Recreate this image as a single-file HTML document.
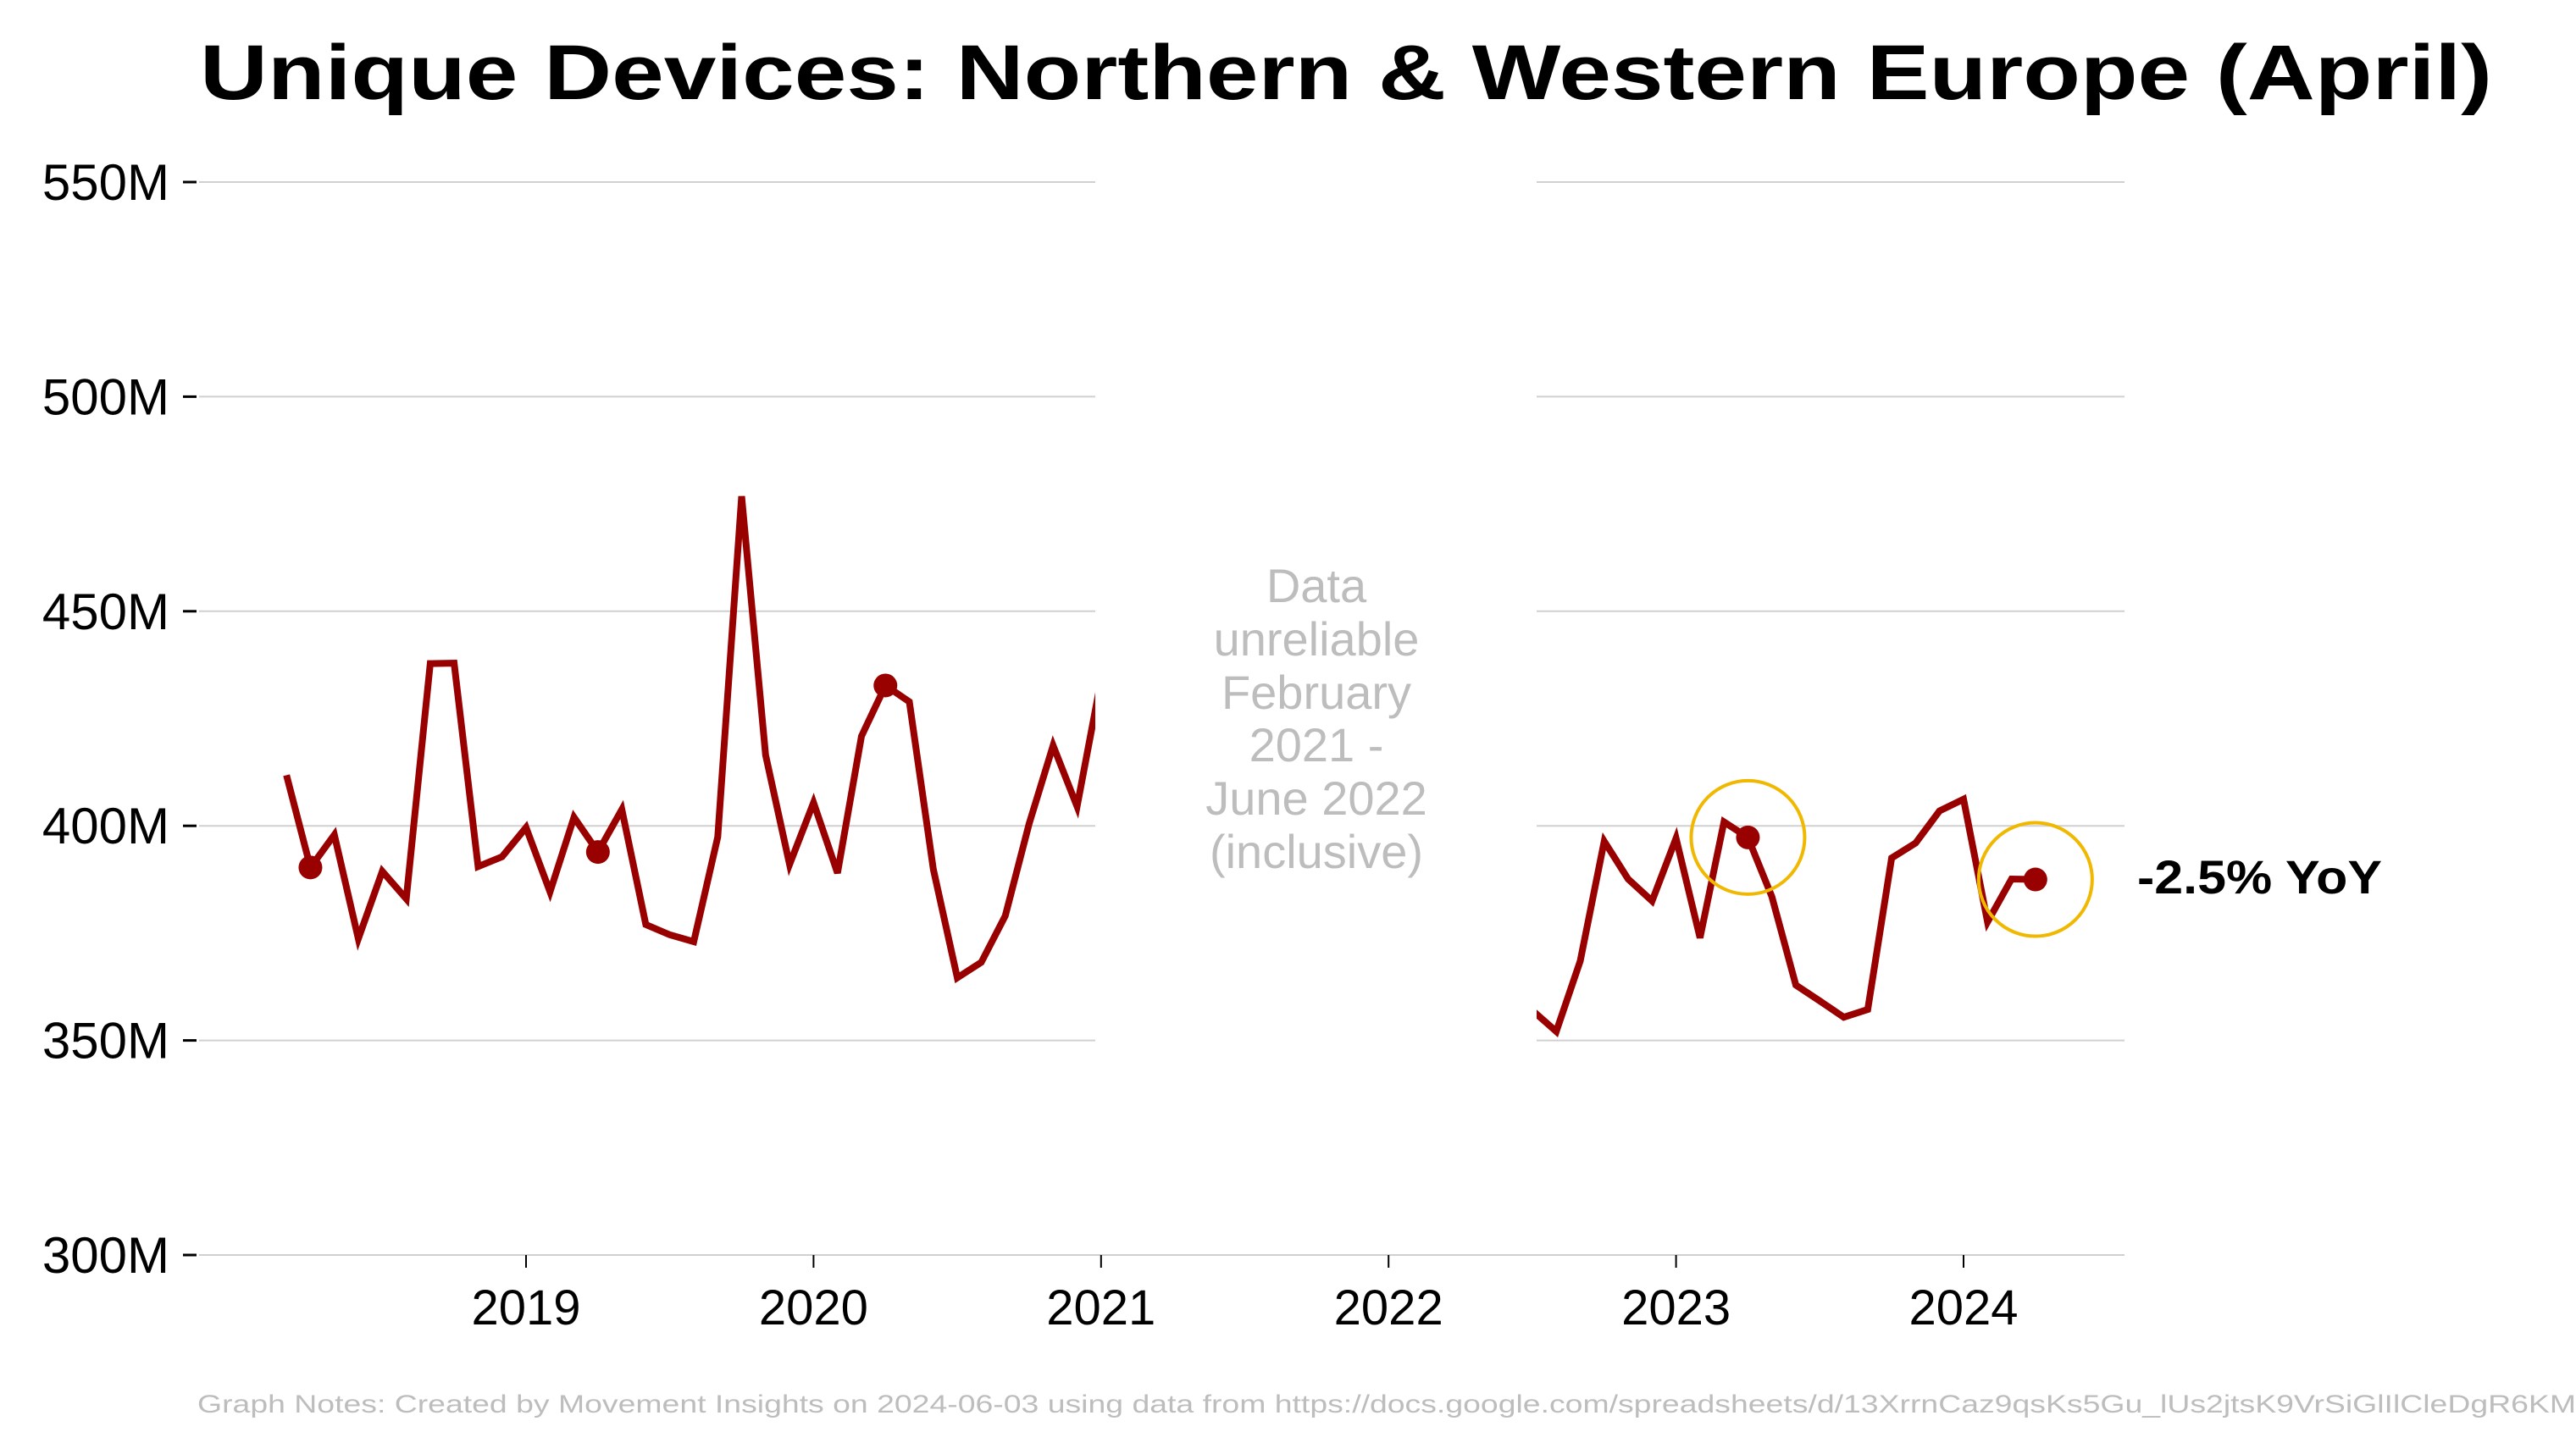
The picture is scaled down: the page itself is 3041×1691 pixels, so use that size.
<!DOCTYPE html>
<html><head><meta charset="utf-8"><style>
html,body{margin:0;padding:0;background:#fff;}
svg{display:block;font-family:"Liberation Sans",sans-serif;}
</style></head><body>
<svg id="chart" width="3041" height="1691" viewBox="0 0 3041 1691" xmlns="http://www.w3.org/2000/svg">
<text x="1589" y="117" text-anchor="middle" font-size="92" font-weight="bold" textLength="2706" lengthAdjust="spacingAndGlyphs">Unique Devices: Northern &amp; Western Europe (April)</text>
<g id="grid"></g>
<g id="yaxis"></g>
<g id="xaxis"></g>
<rect x="1293" y="150" width="521" height="1325" fill="#fff"/>
<g id="series"></g>
<g fill="#bdbdbd" font-size="56" text-anchor="middle">
<text x="1554" y="711">Data</text>
<text x="1554" y="774">unreliable</text>
<text x="1554" y="837">February</text>
<text x="1554" y="899">2021 -</text>
<text x="1554" y="962">June 2022</text>
<text x="1554" y="1025">(inclusive)</text>
</g>
<text x="2523" y="1055" font-size="56" font-weight="bold" textLength="289" lengthAdjust="spacingAndGlyphs">-2.5% YoY</text>
<text x="233" y="1668" font-size="30" fill="#bdbdbd" textLength="2808" lengthAdjust="spacingAndGlyphs">Graph Notes: Created by Movement Insights on 2024-06-03 using data from https://docs.google.com/spreadsheets/d/13XrrnCaz9qsKs5Gu_lUs2jtsK9VrSiGlIlCleDgR6KM</text>
</svg>
<script>
const seg1Start = [2018, 3];
const seg1Values = [411.8,390.3,397.9,373.7,389.4,383.0,437.8,437.9,390.5,392.8,399.6,384.6,402.0,393.9,403.8,377.0,374.6,373.0,397.4,476.8,416.5,391.0,405.4,389.0,420.9,432.7,428.9,389.9,364.6,368.2,379.0,400.5,418.7,404.5,434.0];
const seg2Start = [2022, 6];
const seg2Values = [362.0,357.0,352.1,368.5,396.4,387.6,382.5,397.1,373.9,400.9,397.3,383.5,362.9,359.2,355.4,357.2,392.5,396.0,403.5,406.2,377.6,387.6,387.5];
const yTicks = [300,350,400,450,500,550];
const yTickLabels = ["300M","350M","400M","450M","500M","550M"];
const xTicks = [2019,2020,2021,2022,2023,2024];
const highlightDates = [[2018,4],[2019,4],[2020,4],[2023,4],[2024,4]];
const circledDates = [[2023,4],[2024,4]];

const NS = "http://www.w3.org/2000/svg";
const yPix = v => 1482 - (v - 300) * (1482 - 215) / 250;
const xPix = t => 621 + (t - 2019) * 339.4;
const tOf = (y, m) => y + (m - 1) / 12;
function mk(tag, attrs, parent){const e=document.createElementNS(NS,tag);for(const k in attrs)e.setAttribute(k,attrs[k]);parent.appendChild(e);return e;}
function valueAt(y,m){
  const i1=(y-seg1Start[0])*12+(m-seg1Start[1]); if(i1>=0&&i1<seg1Values.length) return seg1Values[i1];
  const i2=(y-seg2Start[0])*12+(m-seg2Start[1]); if(i2>=0&&i2<seg2Values.length) return seg2Values[i2];
  return null;
}
const grid=document.getElementById('grid'), ya=document.getElementById('yaxis'), xa=document.getElementById('xaxis'), se=document.getElementById('series');
yTicks.forEach((v,i)=>{
  const y=yPix(v);
  const g=mk('line',{x1:235,x2:2508,y1:y,y2:y,stroke:'#d0d0d0','stroke-width':2},grid);
  
  
  const t=mk('line',{x1:216,x2:232,y1:y,y2:y,stroke:'#000','stroke-width':3},ya);
  
  
  const l=mk('text',{x:200,y:y+21,'font-size':60,'text-anchor':'end'},ya);
  l.textContent=yTickLabels[i];
  
  
});
xTicks.forEach(yr=>{
  const x=xPix(yr);
  const t=mk('line',{x1:x,x2:x,y1:1482,y2:1497,stroke:'#000','stroke-width':2},xa);
  
  
  const l=mk('text',{x:x,y:1564,'font-size':58,'text-anchor':'middle'},xa);
  l.textContent=yr;
  
  
});
const cp1=mk('clipPath',{id:'c1'},se); mk('rect',{x:200,y:0,width:1093,height:1691},cp1);
const cp2=mk('clipPath',{id:'c2'},se); mk('rect',{x:1814,y:0,width:900,height:1691},cp2);
function drawSeg(start, vals, clip, name){
  const pts=vals.map((v,i)=>{const t=tOf(start[0],start[1])+i/12;return xPix(t).toFixed(1)+','+yPix(v).toFixed(1);}).join(' ');
  const p=mk('polyline',{points:pts,fill:'none',stroke:'#990000','stroke-width':8,'stroke-linejoin':'miter','clip-path':'url(#'+clip+')'},se);
  
  
}
drawSeg(seg1Start,seg1Values,'c1','series-line-2018-2021');
drawSeg(seg2Start,seg2Values,'c2','series-line-2022-2024');
highlightDates.forEach(d=>{
  const v=valueAt(d[0],d[1]); if(v===null) return;
  const c=mk('circle',{cx:xPix(tOf(d[0],d[1])),cy:yPix(v),r:14,fill:'#990000'},se);
  
  
});
circledDates.forEach(d=>{
  const v=valueAt(d[0],d[1]); if(v===null) return;
  const c=mk('circle',{cx:xPix(tOf(d[0],d[1])),cy:yPix(v),r:67,fill:'none',stroke:'#f0b800','stroke-width':4},se);
  
  
});
</script>
</body></html>
